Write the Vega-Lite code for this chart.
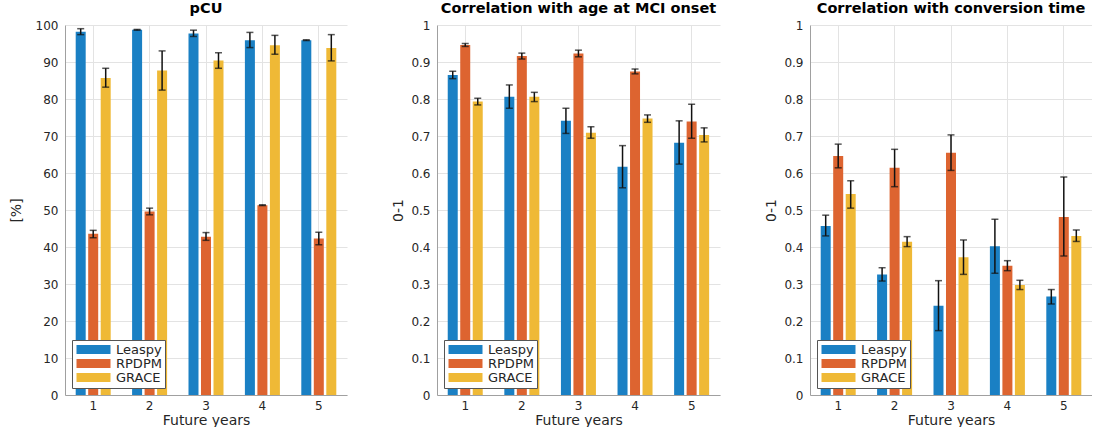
{
  "$schema": "https://vega.github.io/schema/vega-lite/v6.json",
  "background": "white",
  "padding": {"left": 9, "top": 0, "right": 0, "bottom": 0},
  "bounds": "flush",
  "spacing": 90,
  "datasets": {
    "pcu": [
      {"year": 1, "model": "Leaspy", "value": 98.2, "lo": 97.4, "hi": 99.0},
      {"year": 2, "model": "Leaspy", "value": 98.7, "lo": 98.6, "hi": 98.8},
      {"year": 3, "model": "Leaspy", "value": 97.7, "lo": 96.9, "hi": 98.6},
      {"year": 4, "model": "Leaspy", "value": 95.9, "lo": 93.9, "hi": 98.0},
      {"year": 5, "model": "Leaspy", "value": 95.9, "lo": 95.8, "hi": 96.0},
      {"year": 1, "model": "RPDPM", "value": 43.6, "lo": 42.5, "hi": 44.5},
      {"year": 2, "model": "RPDPM", "value": 49.6, "lo": 48.7, "hi": 50.5},
      {"year": 3, "model": "RPDPM", "value": 42.8, "lo": 41.8, "hi": 43.9},
      {"year": 4, "model": "RPDPM", "value": 51.3, "lo": 51.2, "hi": 51.4},
      {"year": 5, "model": "RPDPM", "value": 42.3, "lo": 40.6, "hi": 44.0},
      {"year": 1, "model": "GRACE", "value": 85.7, "lo": 83.2, "hi": 88.3},
      {"year": 2, "model": "GRACE", "value": 87.7, "lo": 82.4, "hi": 93.0},
      {"year": 3, "model": "GRACE", "value": 90.4, "lo": 88.3, "hi": 92.5},
      {"year": 4, "model": "GRACE", "value": 94.5, "lo": 92.1, "hi": 97.2},
      {"year": 5, "model": "GRACE", "value": 93.8, "lo": 90.3, "hi": 97.4}
    ],
    "age": [
      {"year": 1, "model": "Leaspy", "value": 0.865, "lo": 0.855, "hi": 0.875},
      {"year": 2, "model": "Leaspy", "value": 0.806, "lo": 0.775, "hi": 0.838},
      {"year": 3, "model": "Leaspy", "value": 0.741, "lo": 0.707, "hi": 0.775},
      {"year": 4, "model": "Leaspy", "value": 0.617, "lo": 0.560, "hi": 0.674},
      {"year": 5, "model": "Leaspy", "value": 0.682, "lo": 0.624, "hi": 0.741},
      {"year": 1, "model": "RPDPM", "value": 0.946, "lo": 0.942, "hi": 0.950},
      {"year": 2, "model": "RPDPM", "value": 0.916, "lo": 0.908, "hi": 0.924},
      {"year": 3, "model": "RPDPM", "value": 0.923, "lo": 0.914, "hi": 0.932},
      {"year": 4, "model": "RPDPM", "value": 0.874, "lo": 0.868, "hi": 0.881},
      {"year": 5, "model": "RPDPM", "value": 0.739, "lo": 0.694, "hi": 0.786},
      {"year": 1, "model": "GRACE", "value": 0.793, "lo": 0.784, "hi": 0.802},
      {"year": 2, "model": "GRACE", "value": 0.806, "lo": 0.793, "hi": 0.818},
      {"year": 3, "model": "GRACE", "value": 0.709, "lo": 0.694, "hi": 0.725},
      {"year": 4, "model": "GRACE", "value": 0.747, "lo": 0.737, "hi": 0.757},
      {"year": 5, "model": "GRACE", "value": 0.703, "lo": 0.684, "hi": 0.722}
    ],
    "conv": [
      {"year": 1, "model": "Leaspy", "value": 0.457, "lo": 0.430, "hi": 0.486},
      {"year": 2, "model": "Leaspy", "value": 0.326, "lo": 0.308, "hi": 0.344},
      {"year": 3, "model": "Leaspy", "value": 0.241, "lo": 0.174, "hi": 0.309},
      {"year": 4, "model": "Leaspy", "value": 0.402, "lo": 0.329, "hi": 0.475},
      {"year": 5, "model": "Leaspy", "value": 0.266, "lo": 0.246, "hi": 0.285},
      {"year": 1, "model": "RPDPM", "value": 0.646, "lo": 0.614, "hi": 0.678},
      {"year": 2, "model": "RPDPM", "value": 0.614, "lo": 0.563, "hi": 0.664},
      {"year": 3, "model": "RPDPM", "value": 0.655, "lo": 0.607, "hi": 0.703},
      {"year": 4, "model": "RPDPM", "value": 0.349, "lo": 0.336, "hi": 0.363},
      {"year": 5, "model": "RPDPM", "value": 0.481, "lo": 0.376, "hi": 0.589},
      {"year": 1, "model": "GRACE", "value": 0.543, "lo": 0.505, "hi": 0.579},
      {"year": 2, "model": "GRACE", "value": 0.414, "lo": 0.401, "hi": 0.428},
      {"year": 3, "model": "GRACE", "value": 0.372, "lo": 0.326, "hi": 0.419},
      {"year": 4, "model": "GRACE", "value": 0.297, "lo": 0.285, "hi": 0.310},
      {"year": 5, "model": "GRACE", "value": 0.430, "lo": 0.415, "hi": 0.446}
    ]
  },
  "config": {
    "font": "DejaVu Sans",
    "view": {"stroke": null},
    "axis": {
      "labelFont": "DejaVu Sans", "labelFontSize": 12, "labelColor": "#262626",
      "titleFont": "DejaVu Sans", "titleFontSize": 14, "titleFontWeight": "normal", "titleColor": "#262626",
      "gridColor": "#e3e3e3", "gridWidth": 1, "domainColor": "#a0a0a0", "domainWidth": 1,
      "ticks": false, "labelPadding": 7, "labelOverlap": false
    },
    "axisY": {"tickCount": 11},
    "title": {"font": "DejaVu Sans", "fontSize": 14.5, "fontWeight": "bold", "color": "#000000", "offset": 3},
    "legend": {
      "orient": "bottom-left", "offset": 7, "title": null,
      "symbolType": "M-1,-0.9H5.8V0.9H-1Z", "symbolSize": 100, "symbolStrokeWidth": 0, "symbolOpacity": 1,
      "labelOffset": 28, "labelFont": "DejaVu Sans", "labelFontSize": 13, "labelColor": "#262626",
      "padding": 3, "rowPadding": 0, "strokeColor": "#555555", "fillColor": "white", "cornerRadius": 0
    }
  },
  "resolve": {"scale": {"color": "independent"}, "legend": {"color": "independent"}},
  "hconcat": [
    {
      "width": 282, "height": 370,
      "title": "pCU",
      "data": {"name": "pcu"},
      "encoding": {
        "x": {"field": "year", "type": "ordinal", "scale": {"paddingInner": 0.335, "paddingOuter": 0.1675},
              "axis": {"title": "Future years", "labelAngle": 0, "grid": true, "bandPosition": 0.5, "titlePadding": 2, "labelPadding": 5}},
        "xOffset": {"field": "model", "sort": ["Leaspy", "RPDPM", "GRACE"], "scale": {"paddingInner": 0.2, "paddingOuter": 0.1}}
      },
      "layer": [
        {"mark": {"type": "bar"},
         "encoding": {
           "y": {"field": "value", "type": "quantitative", "scale": {"domain": [0, 100]},
                 "axis": {"title": "[%]", "values": [0,10,20,30,40,50,60,70,80,90,100], "grid": true, "titlePadding": 12}},
           "color": {"field": "model", "type": "nominal", "sort": ["Leaspy", "RPDPM", "GRACE"],
                     "scale": {"domain": ["Leaspy", "RPDPM", "GRACE"], "range": ["#1a80c4", "#dd6430", "#efb936"]}}
         }},
        {"mark": {"type": "rule", "color": "#111111", "strokeWidth": 1.5},
         "encoding": {"y": {"field": "lo", "type": "quantitative", "axis": {"title": "[%]", "values": [0,10,20,30,40,50,60,70,80,90,100], "grid": true, "titlePadding": 12}}, "y2": {"field": "hi"}}},
        {"mark": {"type": "tick", "orient": "horizontal", "color": "#111111", "size": 7, "thickness": 1.5},
         "encoding": {"y": {"field": "lo", "type": "quantitative", "axis": {"title": "[%]", "values": [0,10,20,30,40,50,60,70,80,90,100], "grid": true, "titlePadding": 12}}}},
        {"mark": {"type": "tick", "orient": "horizontal", "color": "#111111", "size": 7, "thickness": 1.5},
         "encoding": {"y": {"field": "hi", "type": "quantitative", "axis": {"title": "[%]", "values": [0,10,20,30,40,50,60,70,80,90,100], "grid": true, "titlePadding": 12}}}}
      ]
    },
    {
      "width": 283, "height": 370,
      "title": "Correlation with age at MCI onset",
      "data": {"name": "age"},
      "encoding": {
        "x": {"field": "year", "type": "ordinal", "scale": {"paddingInner": 0.335, "paddingOuter": 0.1675},
              "axis": {"title": "Future years", "labelAngle": 0, "grid": true, "bandPosition": 0.5, "titlePadding": 2, "labelPadding": 5}},
        "xOffset": {"field": "model", "sort": ["Leaspy", "RPDPM", "GRACE"], "scale": {"paddingInner": 0.2, "paddingOuter": 0.1}}
      },
      "layer": [
        {"mark": {"type": "bar"},
         "encoding": {
           "y": {"field": "value", "type": "quantitative", "scale": {"domain": [0, 1]},
                 "axis": {"title": "0-1", "values": [0,0.1,0.2,0.3,0.4,0.5,0.6,0.7,0.8,0.9,1], "format": "~g", "grid": true, "titlePadding": 5}},
           "color": {"field": "model", "type": "nominal", "sort": ["Leaspy", "RPDPM", "GRACE"],
                     "scale": {"domain": ["Leaspy", "RPDPM", "GRACE"], "range": ["#1a80c4", "#dd6430", "#efb936"]}}
         }},
        {"mark": {"type": "rule", "color": "#111111", "strokeWidth": 1.5},
         "encoding": {"y": {"field": "lo", "type": "quantitative", "axis": {"title": "0-1", "values": [0,0.1,0.2,0.3,0.4,0.5,0.6,0.7,0.8,0.9,1], "format": "~g", "grid": true, "titlePadding": 5}}, "y2": {"field": "hi"}}},
        {"mark": {"type": "tick", "orient": "horizontal", "color": "#111111", "size": 7, "thickness": 1.5},
         "encoding": {"y": {"field": "lo", "type": "quantitative", "axis": {"title": "0-1", "values": [0,0.1,0.2,0.3,0.4,0.5,0.6,0.7,0.8,0.9,1], "format": "~g", "grid": true, "titlePadding": 5}}}},
        {"mark": {"type": "tick", "orient": "horizontal", "color": "#111111", "size": 7, "thickness": 1.5},
         "encoding": {"y": {"field": "hi", "type": "quantitative", "axis": {"title": "0-1", "values": [0,0.1,0.2,0.3,0.4,0.5,0.6,0.7,0.8,0.9,1], "format": "~g", "grid": true, "titlePadding": 5}}}}
      ]
    },
    {
      "width": 282, "height": 370,
      "title": "Correlation with conversion time",
      "data": {"name": "conv"},
      "encoding": {
        "x": {"field": "year", "type": "ordinal", "scale": {"paddingInner": 0.335, "paddingOuter": 0.1675},
              "axis": {"title": "Future years", "labelAngle": 0, "grid": true, "bandPosition": 0.5, "titlePadding": 2, "labelPadding": 5}},
        "xOffset": {"field": "model", "sort": ["Leaspy", "RPDPM", "GRACE"], "scale": {"paddingInner": 0.2, "paddingOuter": 0.1}}
      },
      "layer": [
        {"mark": {"type": "bar"},
         "encoding": {
           "y": {"field": "value", "type": "quantitative", "scale": {"domain": [0, 1]},
                 "axis": {"title": "0-1", "values": [0,0.1,0.2,0.3,0.4,0.5,0.6,0.7,0.8,0.9,1], "format": "~g", "grid": true, "titlePadding": 5}},
           "color": {"field": "model", "type": "nominal", "sort": ["Leaspy", "RPDPM", "GRACE"],
                     "scale": {"domain": ["Leaspy", "RPDPM", "GRACE"], "range": ["#1a80c4", "#dd6430", "#efb936"]}}
         }},
        {"mark": {"type": "rule", "color": "#111111", "strokeWidth": 1.5},
         "encoding": {"y": {"field": "lo", "type": "quantitative", "axis": {"title": "0-1", "values": [0,0.1,0.2,0.3,0.4,0.5,0.6,0.7,0.8,0.9,1], "format": "~g", "grid": true, "titlePadding": 5}}, "y2": {"field": "hi"}}},
        {"mark": {"type": "tick", "orient": "horizontal", "color": "#111111", "size": 7, "thickness": 1.5},
         "encoding": {"y": {"field": "lo", "type": "quantitative", "axis": {"title": "0-1", "values": [0,0.1,0.2,0.3,0.4,0.5,0.6,0.7,0.8,0.9,1], "format": "~g", "grid": true, "titlePadding": 5}}}},
        {"mark": {"type": "tick", "orient": "horizontal", "color": "#111111", "size": 7, "thickness": 1.5},
         "encoding": {"y": {"field": "hi", "type": "quantitative", "axis": {"title": "0-1", "values": [0,0.1,0.2,0.3,0.4,0.5,0.6,0.7,0.8,0.9,1], "format": "~g", "grid": true, "titlePadding": 5}}}}
      ]
    }
  ]
}
